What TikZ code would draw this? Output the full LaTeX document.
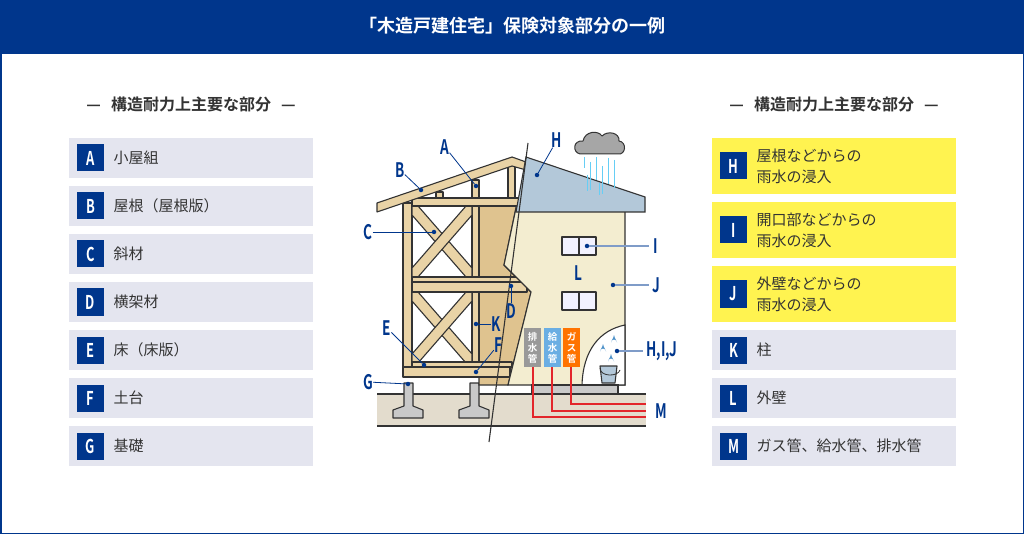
\documentclass[tikz,border=0pt]{standalone}
\usepackage{fontspec}
\setmainfont{Noto Sans CJK JP}
\newfontfamily\jpbold{Noto Sans CJK JP Bold}
\definecolor{nav}{HTML}{00368C}
\definecolor{rowc}{HTML}{E4E5EF}
\definecolor{yel}{HTML}{FFF350}
\definecolor{txt}{HTML}{333333}
\definecolor{wood}{HTML}{E9D3A6}
\definecolor{panel}{HTML}{DFC38F}
\definecolor{roofb}{HTML}{B3C8D9}
\definecolor{wallc}{HTML}{F3EDD0}
\definecolor{grnd}{HTML}{E3DCCD}
\definecolor{pier}{HTML}{C9C9C9}
\definecolor{lead}{HTML}{7F9CC8}
\definecolor{pipered}{HTML}{E3262B}
\definecolor{drop}{HTML}{4A8FC8}
\tikzset{
 badge/.style={fill=nav,text=white,minimum width=27pt,minimum height=27pt,inner sep=0pt,font=\jpbold\fontsize{19}{19}\selectfont},
 itemtxt/.style={anchor=west,text=txt,font=\fontsize{15}{21}\selectfont,align=left},
 ln/.style={draw=txt,line width=1.1pt,line join=round},
 lab/.style={text=nav,font=\jpbold\fontsize{20}{20}\selectfont,inner sep=0pt},
 lead1/.style={draw=nav,line width=0.8pt},
 lead2/.style={draw=lead,line width=1.5pt},
 dotc/.style={fill=nav,circle,inner sep=0pt,minimum size=4.5pt},
 pipebox/.style={text=white,minimum width=17pt,minimum height=39pt,inner sep=0pt,font=\jpbold\fontsize{9.5}{11}\selectfont,align=center},
}
\newcommand{\cond}[1]{\scalebox{0.68}[1]{#1}}
\begin{document}
\begin{tikzpicture}[x=1pt,y=-1pt]
\useasboundingbox (0,0) rectangle (1024,534);
\fill[white] (0,0) rectangle (1024,534);
\draw[nav,line width=1.5pt] (0.75,0.75) rectangle (1023.25,533.25);
\fill[nav] (0,0) rectangle (1024,54);
\node[text=white,font=\jpbold\fontsize{18}{18}\selectfont] (title) at (512,26) {「木造戸建住宅」保険対象部分の一例};
\node[text=txt,font=\jpbold\fontsize{16}{16}\selectfont] (hl) at (191,104) {—\hspace{10pt}構造耐力上主要な部分\hspace{10pt}—};
\node[text=txt,font=\jpbold\fontsize{16}{16}\selectfont] (hr) at (834,104) {—\hspace{10pt}構造耐力上主要な部分\hspace{10pt}—};
\foreach \y/\L/\T [count=\i] in {138/A/小屋組,186/B/屋根（屋根版）,234/C/斜材,282/D/横架材,330/E/床（床版）,378/F/土台,426/G/基礎}{
  \fill[rowc] (69,\y) rectangle (313,\y+40);
  \node[badge] (lb\i) at (90.5,\y+20) {\cond{\L}};
  \node[itemtxt] (lt\i) at (110,\y+20) {\T};
}
\foreach \y/\L/\T [count=\i] in {138/H/屋根などからの,202/I/開口部などからの,266/J/外壁などからの}{
  \fill[yel] (712,\y) rectangle (956,\y+56);
  \node[badge] (rb\i) at (733.5,\y+28) {\cond{\L}};
  \node[itemtxt] (rt\i) at (753,\y+28) {\T\\雨水の浸入};
}
\foreach \y/\L/\T [count=\i] in {330/K/柱,378/L/外壁,426/M/ガス管、給水管、排水管}{
  \fill[rowc] (712,\y) rectangle (956,\y+40);
  \node[badge] (rc\i) at (733.5,\y+20) {\cond{\L}};
  \node[itemtxt] (rd\i) at (753,\y+20) {\T};
}
% ---------- illustration ----------
\fill[grnd] (377,394) rectangle (646,426);
\draw[ln] (377,394) -- (646,394) (377,426) -- (646,426);
\foreach \a in {404,470}{
 \draw[ln,fill=pier] (\a,383) -- (\a+9,383) -- (\a+9,406) -- (\a+19,410) -- (\a+19,418) -- (\a-11,418) -- (\a-11,410) -- (\a,406) -- cycle;
}
\fill[panel,draw=txt,line width=1.1pt] (479,198) -- (518,198) -- (504,265) -- (531,292) -- (508,385) -- (479,385) -- cycle;
\draw[ln,fill=wood] (403,203) rectangle (412,367);
\draw[ln,fill=wood] (472,180) rectangle (479,367);
\draw[ln,fill=wood] (436,192) rectangle (443,200);
\draw[ln,fill=wood] (508,163) rectangle (515,200);
\foreach \ya/\yb in {206/277,292/363}{
 \draw[ln,fill=wood] (412,\ya) -- (418,\ya) -- (472,\yb-9) -- (472,\yb) -- (466,\yb) -- (412,\ya+9) -- cycle;
 \draw[ln,fill=wood] (472,\ya) -- (466,\ya) -- (412,\yb-9) -- (412,\yb) -- (418,\yb) -- (472,\ya+9) -- cycle;
}
\draw[ln,fill=wood] (412,198) rectangle (520,206);
\draw[ln,fill=wood] (412,277) rectangle (527,292);
\draw[ln] (412,282) -- (527,282);
\draw[ln,fill=wood] (412,362) rectangle (512,367);
\draw[ln,fill=wood] (403,367) rectangle (510,377);
\draw[ln,fill=wood] (377,203) -- (512,157) -- (526,162) -- (526,170) -- (512,166) -- (377,212) -- cycle;
\fill[wallc,draw=txt,line width=1.1pt] (516,208) -- (625,208) -- (625,385) -- (508,385) -- (531,292) -- (504,265) -- cycle;
\fill[roofb,draw=txt,line width=1.1pt] (526,157) -- (645,197) -- (645,212) -- (516,212) -- cycle;
\fill[white,draw=txt,line width=1.1pt] (582,385) .. controls (583,350) and (600,330) .. (625,325) -- (625,385) -- cycle;
\fill[pier,draw=txt,line width=1.1pt] (532,385) rectangle (618,394);
\draw[ln,fill=roofb] (600,366) -- (617,366) -- (615,383) -- (602,383) -- cycle;
\draw[txt,line width=0.8pt] (600,368) .. controls (600,377) and (618,377) .. (620,370);
\foreach \x/\y in {614/342,603/351,611/361}{
 \fill[drop] (\x,\y-7) .. controls (\x+0.6,\y-3) and (\x+3,\y-1.5) .. (\x+3,\y+0.5) arc(0:-180:3) .. controls (\x-3,\y-1.5) and (\x-0.6,\y-3) .. (\x,\y-7) -- cycle;}
\foreach \y in {237,292}{
 \draw[ln,fill=blue!5] (562,\y) rectangle (596,\y+18);
 \draw[ln] (579,\y) -- (579,\y+18);
}
\draw[ln] (528,143) -- (489,442);
\draw[pipered,line width=1.5pt] (533,367) -- (533,417) -- (646,417);
\draw[pipered,line width=1.5pt] (552,367) -- (552,411) -- (646,411);
\draw[pipered,line width=1.5pt] (571,367) -- (571,404) -- (646,404);
\node[pipebox,fill=gray!80] (p1) at (532.5,347.5) {排\\水\\管};
\node[pipebox,fill=cyan!70!blue!60] (p2) at (552.5,347.5) {給\\水\\管};
\node[pipebox,fill=orange!90!red] (p3) at (571.5,347.5) {ガ\\ス\\管};
\foreach \x/\a/\b in {584/157/168,590/162/190,596/157/180,602/166/194,608/158/184,614/160/188,587/175/191,599/183/195}{\draw[cyan!60,line width=0.8pt] (\x,\a) -- (\x,\b);}
\draw[ln,fill=gray!70,line width=1pt] (580,154) .. controls (572,152) and (573,140) .. (583,141) .. controls (585,131) and (598,130) .. (602,136) .. controls (608,130) and (620,133) .. (619,141) .. controls (627,142) and (626,155) .. (618,154) -- cycle;
\node[lab] (A) at (445,147) {\cond{A}};
\node[lab] (B) at (400,170) {\cond{B}};
\node[lab] (C) at (368,232) {\cond{C}};
\node[lab] (D) at (511,311) {\cond{D}};
\node[lab] (E) at (387,328) {\cond{E}};
\node[lab] (F) at (498,345) {\cond{F}};
\node[lab] (G) at (368,382) {\cond{G}};
\node[lab] (H) at (557,140) {\cond{H}};
\node[lab] (I) at (656,246) {\cond{I}};
\node[lab] (J) at (656,285) {\cond{J}};
\node[lab] (K) at (496,324) {\cond{K}};
\node[lab] (L) at (578,273) {\cond{L}};
\node[lab] (HIJ) at (662,351) {\cond{H,I,J}};
\node[lab] (M) at (661,411) {\cond{M}};
\node[dotc] (dA) at (476,186) {}; \draw[lead1] (A) -- (dA);
\node[dotc] (dB) at (421,190) {}; \draw[lead1] (B) -- (dB);
\node[dotc] (dC) at (434,232) {}; \draw[lead1] (C) -- (dC);
\node[dotc] (dD) at (511,286) {}; \draw[lead1] (D) -- (dD);
\node[dotc] (dE) at (424,365) {}; \draw[lead1] (E) -- (dE);
\node[dotc] (dF) at (476,372) {}; \draw[lead1] (F) -- (dF);
\node[dotc] (dG) at (408,384) {}; \draw[lead1] (G) -- (dG);
\node[dotc] (dH) at (537,175) {}; \draw[lead1] (H) -- (dH);
\node[dotc] (dK) at (476,324) {}; \draw[lead1] (K) -- (dK);
\node[dotc] (dI) at (587,246) {}; \draw[lead2] (dI) -- ([xshift=-5pt]I.west);
\node[dotc] (dJ) at (613,285) {}; \draw[lead2] (dJ) -- ([xshift=-3pt]J.west);
\node[dotc] (dHIJ) at (617,351) {}; \draw[lead2] (dHIJ) -- ([xshift=-3pt]HIJ.west);
\end{tikzpicture}
\end{document}
